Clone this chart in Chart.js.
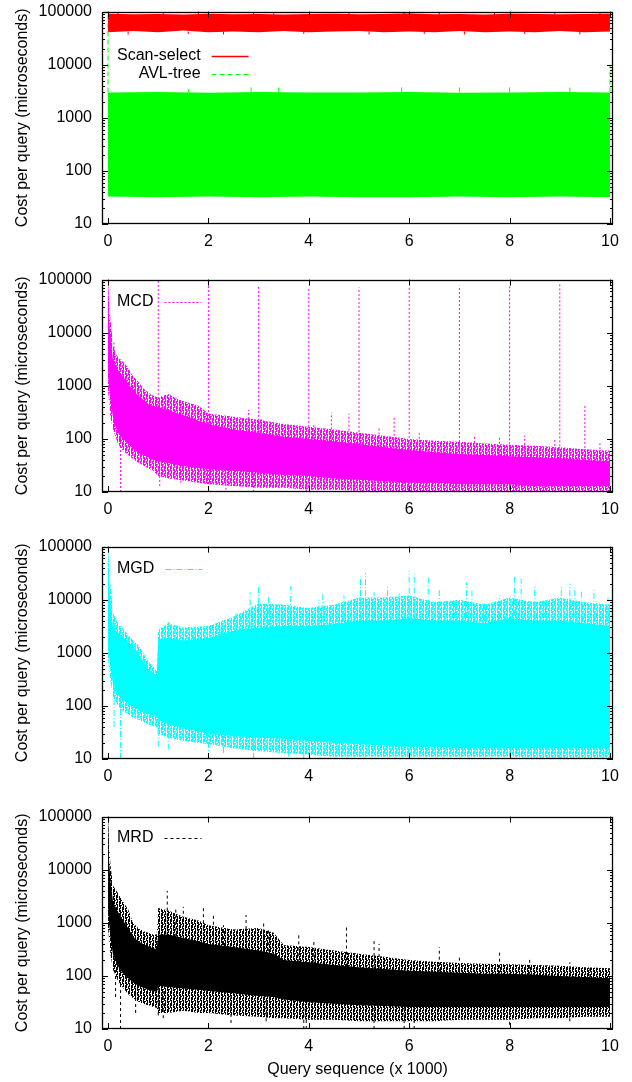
<!DOCTYPE html>
<html>
<head>
<meta charset="utf-8">
<script src="https://cdn.jsdelivr.net/npm/chart.js@4.4.1/dist/chart.umd.min.js"></script>
<style>
  html, body { margin: 0; padding: 0; background: #fff; }
  body { width: 632px; height: 1082px; position: relative; overflow: hidden; }
  .panel { position: absolute; left: 0; width: 632px; }
</style>
</head>
<body>
<div class="panel" id="p0"><canvas id="c0"></canvas></div>
<div class="panel" id="p1"><canvas id="c1"></canvas></div>
<div class="panel" id="p2"><canvas id="c2"></canvas></div>
<div class="panel" id="p3"><canvas id="c3"></canvas></div>
<script>
const xTicks = [0, 2, 4, 6, 8, 10];
const yTicks = [10, 100, 1000, 10000, 100000];

// === Scan-select ===
const scanX  = [0, 0.5, 1, 1.5, 2, 2.5, 3, 3.5, 4, 4.5, 5, 5.5, 6, 6.5, 7, 7.5, 8, 8.5, 9, 9.5, 10];
const scanHi = [91000, 89000, 90000, 88000, 91000, 89000, 90000, 88000, 90000, 91000, 89000, 90000, 92000, 89000, 90000, 88000, 91000, 90000, 89000, 90000, 91000];
const scanLo = [41000, 43000, 41000, 44000, 41000, 42000, 41000, 43000, 41000, 42000, 43000, 41000, 42000, 41000, 43000, 41000, 42000, 41000, 43000, 41000, 42000];
const scanSpikeX  = [0.2, 1.1, 1.8, 2.9, 3.3, 4.8, 5.9, 6.6, 7.7, 8.9, 9.8, 0.4, 1.6, 2.3, 3.9, 5.2, 6.3, 7.1, 8.3, 9.4];
const scanSpikeLo = [88000, 88000, 88000, 88000, 88000, 88000, 88000, 88000, 88000, 88000, 88000, 37000, 38000, 37000, 38000, 37000, 38000, 37000, 38000, 37000];
const scanSpikeHi = [97000, 96000, 100000, 96000, 97000, 96000, 100000, 97000, 96000, 97000, 96000, 42000, 42000, 42000, 42000, 42000, 42000, 42000, 42000, 42000];

// === AVL-tree ===
const avlX  = [0, 1, 2, 3, 4, 5, 6, 7, 8, 9, 10];
const avlHi = [3000, 3050, 2950, 3050, 3000, 3000, 3050, 2950, 3000, 3050, 3000];
const avlLo = [33, 32, 33, 32, 33, 32, 32, 33, 32, 33, 32];
const avlSpikeX  = [0, 1.6, 2.85, 3.4, 5.85, 7.0, 8.0, 9.2, 10];
const avlSpikeLo = [3000, 3000, 3000, 3000, 3000, 3000, 3000, 3000, 3000];
const avlSpikeHi = [100000, 3500, 4200, 4100, 3900, 3800, 3800, 3700, 10000];

// === MCD ===
const mcdX       = [0, 0.02, 0.05, 0.1, 0.15, 0.2, 0.3, 0.4, 0.5, 0.6, 0.7, 0.8, 0.9, 1.0, 1.2, 1.4, 1.6, 1.8, 2.0, 2.5, 3.0, 3.5, 4.0, 4.5, 5.0, 5.5, 6.0, 6.5, 7.0, 7.5, 8.0, 8.5, 9.0, 9.5, 10];
const mcdOuterHi = [100000, 40000, 17000, 6000, 4000, 3500, 2800, 2200, 1500, 1200, 900, 750, 650, 600, 700, 550, 480, 420, 300, 260, 230, 190, 170, 150, 130, 115, 100, 92, 88, 82, 78, 74, 70, 64, 60];
const mcdCoreHi  = [100000, 20000, 8000, 3000, 2500, 2000, 1500, 1100, 850, 650, 550, 450, 420, 400, 350, 300, 260, 220, 190, 150, 130, 110, 100, 90, 80, 70, 62, 56, 52, 50, 47, 45, 43, 40, 38];
const mcdCoreLo  = [2000, 1000, 500, 250, 170, 130, 100, 80, 65, 55, 50, 45, 40, 38, 35, 32, 30, 28, 27, 25, 23, 21, 20, 18, 17, 16, 15, 15, 14, 14, 14, 13, 13, 13, 13];
const mcdOuterLo = [800, 500, 250, 150, 110, 80, 60, 50, 42, 36, 32, 28, 25, 20, 18, 17, 16, 15, 14, 13, 12, 12, 11, 11, 10.5, 10, 10, 10, 10, 10, 10, 10, 10, 10, 10];
const mcdSpikeX  = [1, 2, 3, 4, 5, 6, 7, 8, 9, 9.5,
  0.12, 0.55, 1.15, 1.45, 2.1, 2.8, 3.05, 3.6, 4.1, 4.45, 4.8, 5.4, 5.7, 6.2, 7.3, 7.8, 8.3, 8.9, 9.8,
  0.25, 1.03, 1.45, 2.0, 2.35, 2.9, 3.3, 3.95, 4.3, 4.9, 5.3, 5.9, 6.3, 6.9, 7.4, 8.1, 8.7, 9.2, 9.6];
const mcdSpikeLo = [400, 190, 130, 100, 80, 62, 52, 47, 43, 40,
  3000, 800, 350, 300, 190, 140, 130, 110, 100, 90, 85, 72, 68, 60, 50, 48, 46, 44, 38,
  10, 13, 15, 10, 11, 10, 12, 10, 11, 10, 11, 10, 10, 10, 10, 10, 10, 10, 10];
const mcdSpikeHi = [100000, 100000, 75000, 72000, 71000, 72000, 77000, 78000, 82000, 430,
  7000, 1300, 700, 480, 280, 350, 250, 180, 190, 310, 300, 160, 250, 130, 120, 110, 115, 95, 90,
  150, 38, 35, 27, 25, 23, 22, 20, 19, 17, 16, 15, 15, 14, 14, 14, 13, 13, 13];

// === MGD ===
const mgdX       = [0, 0.02, 0.05, 0.1, 0.2, 0.3, 0.4, 0.5, 0.6, 0.7, 0.8, 0.9, 0.97, 1.0, 1.2, 1.5, 2.0, 2.5, 3.0, 3.5, 4.0, 4.5, 5.0, 5.5, 6.0, 6.5, 7.0, 7.5, 8.0, 8.5, 9.0, 9.5, 10];
const mgdOuterHi = [100000, 40000, 18000, 5500, 3600, 2800, 2200, 1700, 1400, 1000, 700, 550, 450, 2700, 3600, 3000, 3200, 4800, 8500, 8000, 7000, 8000, 11000, 11000, 12000, 9000, 10000, 8000, 11000, 9000, 11000, 9000, 8000];
const mgdCoreHi  = [100000, 20000, 8000, 3000, 2400, 2000, 1600, 1300, 1000, 700, 500, 420, 380, 1800, 1900, 1700, 1900, 2600, 3000, 3200, 3200, 3500, 4000, 4000, 4500, 4000, 4000, 3600, 4500, 4000, 4000, 3600, 3200];
const mgdCoreLo  = [1500, 900, 500, 250, 160, 130, 110, 95, 85, 75, 70, 65, 62, 55, 45, 38, 30, 27, 25, 24, 22, 20, 19, 18, 17, 17, 16, 16, 16, 16, 16, 16, 16];
const mgdOuterLo = [800, 500, 300, 150, 100, 80, 70, 60, 55, 50, 45, 42, 40, 30, 25, 22, 19, 16, 14, 13, 12, 11, 11, 11, 11, 11, 11, 11, 11, 10.5, 10.5, 10.5, 10.5];
const mgdSpikeX  = [1.2, 1.7, 2.25, 2.55, 2.83, 3.0, 3.2, 3.45, 3.64, 4.2, 4.28, 4.7, 5.03, 5.13, 5.3, 5.57, 5.8, 6.0, 6.1, 6.38, 6.6, 6.9, 7.14, 7.25, 7.5, 7.8, 8.1, 8.23, 8.5, 8.7, 9.03, 9.2, 9.3, 9.43, 9.68, 9.96,
  0.12, 0.25, 1.0, 1.2, 2.0, 2.3, 2.9, 3.6, 3.9, 4.6, 5.2, 7.2, 9.0, 9.9];
const mgdSpikeLo = [1900, 1700, 2200, 2800, 3000, 3200, 3300, 3500, 3500, 3700, 3800, 4000, 4500, 4500, 4500, 4500, 4600, 5000, 5000, 4800, 4500, 4500, 4500, 4400, 4000, 4500, 5000, 4800, 4500, 4500, 4500, 4500, 4500, 4200, 4000, 3500,
  40, 10, 17, 15, 10, 13, 10, 11, 10, 12, 12, 13, 10, 11];
const mgdSpikeHi = [3800, 2600, 3600, 5500, 14000, 19000, 12000, 9000, 18000, 10000, 14000, 12000, 27000, 32000, 14000, 19000, 13000, 35000, 32000, 26000, 15000, 10000, 21000, 16000, 9000, 12000, 27000, 25000, 18000, 10000, 18000, 20000, 17000, 15000, 16000, 11000,
  300, 150, 55, 45, 30, 28, 25, 24, 22, 20, 19, 16, 16, 16];

// === MRD ===
const mrdX       = [0, 0.02, 0.05, 0.1, 0.2, 0.3, 0.4, 0.5, 0.6, 0.7, 0.8, 0.9, 0.97, 1.0, 1.2, 1.5, 1.8, 2.0, 2.5, 3.0, 3.3, 3.5, 4.0, 4.5, 5.0, 5.5, 6.0, 6.5, 7.0, 7.5, 8.0, 8.5, 9.0, 9.5, 10];
const mrdOuterHi = [100000, 30000, 12000, 5000, 3600, 2500, 1800, 1000, 800, 700, 650, 600, 600, 1900, 1700, 1300, 1100, 900, 750, 800, 650, 380, 350, 300, 260, 230, 200, 185, 175, 170, 165, 160, 155, 145, 140];
const mrdCoreHi  = [100000, 15000, 6000, 2500, 1600, 1100, 800, 550, 450, 400, 360, 330, 320, 600, 600, 520, 450, 400, 350, 300, 260, 200, 180, 160, 145, 135, 125, 120, 115, 110, 110, 105, 100, 95, 90];
const mrdCoreLo  = [2000, 1000, 500, 250, 150, 110, 90, 75, 65, 60, 55, 52, 50, 65, 62, 58, 55, 52, 47, 42, 40, 36, 32, 30, 28, 27, 26, 26, 26, 26, 26, 26, 26, 26, 26];
const mrdOuterLo = [800, 500, 250, 130, 80, 60, 45, 38, 33, 30, 28, 26, 25, 20, 20, 22, 20, 20, 18, 17, 16, 16, 15, 15, 14, 14, 14, 14, 15, 15, 15, 16, 16, 17, 17];
const mrdSpikeX  = [1.18, 1.35, 1.5, 1.9, 2.1, 2.3, 2.75, 3.1, 3.2, 3.8, 4.1, 4.75, 5.3, 5.4, 6.6, 7.0, 7.8, 8.4, 9.2, 9.6,
  0.15, 0.25, 0.55, 1.0, 1.1, 2.45, 3.15, 3.9, 3.95, 5.3, 5.9, 6.1, 8.0, 9.2];
const mrdSpikeLo = [600, 550, 520, 450, 420, 380, 350, 300, 290, 180, 175, 150, 140, 135, 120, 115, 110, 105, 100, 95,
  40, 10, 20, 18, 16, 13, 14, 10, 10, 10, 10, 10, 12, 14];
const mrdSpikeHi = [4000, 1800, 2000, 1900, 1400, 900, 1400, 1000, 800, 600, 450, 900, 500, 400, 350, 250, 300, 200, 180, 160,
  250, 150, 60, 60, 55, 45, 40, 30, 30, 27, 25, 25, 25, 25];

const FONT = '"Liberation Sans", Arial, Helvetica, sans-serif';
Chart.defaults.color = '#000';
Chart.defaults.font.family = FONT;
Chart.defaults.font.size = 16;

// streaky texture for the sparse edge of a band (dense vertical samples with gaps)
const TEXTURE = [
  'XX.X.X',
  'X..X.X',
  'X.XX..',
  'X.XX.X',
  '..XX.X',
  'X.X..X',
  'X.XX.X',
  'XX.X..',
  'X..X.X',
  'X.XX.X',
  'X.X..X',
  '..XX.X'
];

function texture(color) {
  const c = document.createElement('canvas');
  c.width = TEXTURE[0].length;
  c.height = TEXTURE.length;
  const g = c.getContext('2d');
  g.fillStyle = color;
  TEXTURE.forEach((row, r) => {
    for (let k = 0; k < row.length; k++) if (row[k] === 'X') g.fillRect(k, r, 1, 1);
  });
  return g.createPattern(c, 'repeat');
}

function pts(xs, ys) {
  return xs.map((x, i) => ({ x, y: ys[i] }));
}

function bandSets(xs, hi, lo, fillStyle) {
  return [
    { data: pts(xs, hi), fill: '+1', backgroundColor: fillStyle, borderColor: 'rgba(0,0,0,0)', borderWidth: 0, pointRadius: 0 },
    { data: pts(xs, lo), fill: false, borderColor: 'rgba(0,0,0,0)', borderWidth: 0, pointRadius: 0 }
  ];
}

function spikeSet(sx, lo, hi, color, dash, width) {
  const data = [];
  sx.forEach((x, i) => data.push({ x, y: lo[i] }, { x, y: hi[i] }, { x, y: null }));
  return { data, fill: false, borderColor: color, borderWidth: width, borderDash: dash, pointRadius: 0, spanGaps: false };
}

// frame + inward ticks, gnuplot style
const frameTicks = {
  id: 'frameTicks',
  afterDraw(chart) {
    const { ctx, chartArea: a, scales: { x, y } } = chart;
    const seg = (x1, y1, x2, y2) => { ctx.moveTo(x1, y1); ctx.lineTo(x2, y2); };
    ctx.save();
    ctx.strokeStyle = '#000';
    ctx.lineWidth = 1;
    ctx.beginPath();
    xTicks.forEach(v => {
      const px = Math.round(x.getPixelForValue(v)) + 0.5;
      seg(px, a.bottom, px, a.bottom - 6);
      seg(px, a.top, px, a.top + 6);
    });
    yTicks.forEach((v, i) => {
      const py = Math.round(y.getPixelForValue(v)) + 0.5;
      seg(a.left, py, a.left + 6, py);
      seg(a.right, py, a.right - 6, py);
      if (i < yTicks.length - 1) {
        for (let m = 2; m < 10; m++) {
          const pm = Math.round(y.getPixelForValue(v * m)) + 0.5;
          seg(a.left, pm, a.left + 3, pm);
          seg(a.right, pm, a.right - 3, pm);
        }
      }
    });
    ctx.stroke();
    ctx.lineWidth = 1.3;
    ctx.strokeRect(Math.round(a.left) + 0.5, Math.round(a.top) + 0.5, Math.round(a.width) - 1, Math.round(a.height) - 1);
    ctx.restore();
  }
};

// key: right aligned text followed by a line sample
const keyBox = {
  id: 'keyBox',
  afterDraw(chart, args, opts) {
    const { ctx, chartArea: a } = chart;
    ctx.save();
    ctx.font = '16px ' + FONT;
    const wMax = Math.max(...opts.entries.map(e => ctx.measureText(e.label).width));
    const textRight = 117 + wMax;
    opts.entries.forEach((e, i) => {
      const yy = Math.round(a.top + opts.offset + i * 18);
      ctx.fillStyle = '#000';
      ctx.textAlign = 'right';
      ctx.textBaseline = 'middle';
      ctx.fillText(e.label, textRight, yy);
      ctx.strokeStyle = e.color;
      ctx.lineWidth = e.width;
      ctx.setLineDash(e.dash);
      ctx.beginPath();
      ctx.moveTo(textRight + 11, yy + 0.5);
      ctx.lineTo(textRight + 48, yy + 0.5);
      ctx.stroke();
    });
    ctx.restore();
  }
};

const panels = [
  { top: 12, axisH: 40, keyOffset: 44, xTitle: false, series: [
    { label: 'Scan-select', color: '#ff0000', textured: false, dash: [], width: 1.5,
      x: scanX, hi: scanHi, lo: scanLo, sx: scanSpikeX, slo: scanSpikeLo, shi: scanSpikeHi },
    { label: 'AVL-tree', color: '#00ff00', textured: false, dash: [5, 3], width: 1.2,
      x: avlX, hi: avlHi, lo: avlLo, sx: avlSpikeX, slo: avlSpikeLo, shi: avlSpikeHi }
  ]},
  { top: 280, axisH: 40, keyOffset: 22, xTitle: false, series: [
    { label: 'MCD', color: '#ff00ff', textured: true, dash: [2, 2], width: 1,
      x: mcdX, ohi: mcdOuterHi, olo: mcdOuterLo, hi: mcdCoreHi, lo: mcdCoreLo, sx: mcdSpikeX, slo: mcdSpikeLo, shi: mcdSpikeHi }
  ]},
  { top: 547, axisH: 40, keyOffset: 22, xTitle: false, series: [
    { label: 'MGD', color: '#00ffff', textured: true, dash: [6, 2, 1, 2], width: 1,
      x: mgdX, ohi: mgdOuterHi, olo: mgdOuterLo, hi: mgdCoreHi, lo: mgdCoreLo, sx: mgdSpikeX, slo: mgdSpikeLo, shi: mgdSpikeHi }
  ]},
  { top: 817, axisH: 53, keyOffset: 21, xTitle: true, series: [
    { label: 'MRD', color: '#000000', textured: true, dash: [3, 3], width: 1,
      x: mrdX, ohi: mrdOuterHi, olo: mrdOuterLo, hi: mrdCoreHi, lo: mrdCoreLo, sx: mrdSpikeX, slo: mrdSpikeLo, shi: mrdSpikeHi }
  ]}
];

const PLOT_H = 212;
// the y scale reserves half a label + tick padding (~20px) above the plot area
const BOX_OFF = 20;

panels.forEach((p, idx) => {
  const box = document.getElementById('p' + idx);
  box.style.top = (p.top - BOX_OFF) + 'px';
  box.style.height = (BOX_OFF + PLOT_H + p.axisH) + 'px';

  const datasets = [];
  p.series.forEach(s => {
    if (s.textured) datasets.push(...bandSets(s.x, s.ohi, s.olo, texture(s.color)));
    datasets.push(...bandSets(s.x, s.hi, s.lo, s.color));
  });
  p.series.forEach(s => datasets.push(spikeSet(s.sx, s.slo, s.shi, s.color, s.dash, 1)));

  new Chart(document.getElementById('c' + idx), {
    type: 'line',
    data: { datasets },
    plugins: [frameTicks, keyBox],
    options: {
      responsive: true,
      maintainAspectRatio: false,
      animation: false,
      events: [],
      layout: { padding: { top: 0, right: 19, left: 0, bottom: 0 } },
      plugins: {
        legend: { display: false },
        tooltip: { enabled: false },
        keyBox: {
          offset: p.keyOffset,
          entries: p.series.map(s => ({ label: s.label, color: s.color, dash: s.dash, width: s.width }))
        }
      },
      scales: {
        x: {
          type: 'linear',
          min: -0.12,
          max: 10.06,
          afterBuildTicks: sc => { sc.ticks = xTicks.map(v => ({ value: v })); },
          afterFit: sc => { sc.height = p.axisH; },
          grid: { display: false, drawTicks: false },
          border: { display: false },
          ticks: { padding: 8, maxRotation: 0, autoSkip: false, font: { size: 16 } },
          title: { display: p.xTitle, text: 'Query sequence (x 1000)', font: { size: 16 }, padding: { top: 0, bottom: 3 } }
        },
        y: {
          type: 'logarithmic',
          min: 10,
          max: 100000,
          afterBuildTicks: sc => { sc.ticks = yTicks.map(v => ({ value: v })); },
          afterFit: sc => { sc.width = 102; },
          grid: { display: false, drawTicks: false },
          border: { display: false },
          ticks: { padding: 10, autoSkip: false, font: { size: 16 }, callback: v => String(v) },
          title: { display: true, text: 'Cost per query (microseconds)', font: { size: 16 }, padding: { top: 13, bottom: 0 } }
        }
      }
    }
  });
});
</script>
</body>
</html>
